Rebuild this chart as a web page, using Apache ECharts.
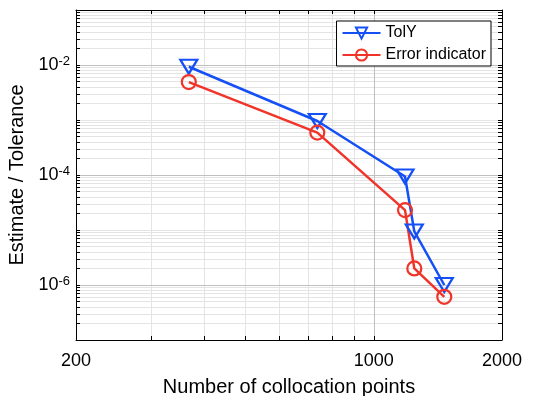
<!DOCTYPE html>
<html>
<head>
<meta charset="utf-8">
<script src="https://cdn.jsdelivr.net/npm/echarts@6/dist/echarts.min.js"></script>
<style>
html,body{margin:0;padding:0;background:#fff}
#chart{width:533px;height:396px}
</style>
</head>
<body>
<div id="chart"></div>
<script>
// number of collocation points (x)
const nPoints = [368, 737, 1184, 1245, 1464];
// TolY and error indicator (y)
const tolY = [9.3e-3, 9.6e-4, 9.4e-5, 9.4e-6, 1.0e-6];
const errInd = [4.9e-3, 5.9e-4, 2.3e-5, 2.0e-6, 6.1e-7];
// tick labels
const xLabels = [200, 1000, 2000];
const yLabels = [1e-6, 1e-4, 1e-2];
// minor grid positions
const xMinorTicks = [300, 400, 500, 600, 700, 800, 900];
const yMantissas = [1, 2, 3, 4, 5, 6, 7, 8, 9];
const yDecades = [-7, -6, -5, -4, -3, -2];

const blue = '#1450f5';
const red = '#f0342a';
const font = 'Liberation Sans, Arial, Helvetica, sans-serif';

let yMinorTicks = [];
yDecades.forEach(e => {
  yMantissas.forEach(m => {
    let v = m * Math.pow(10, e);
    if (v <= 1e-7 || yLabels.some(l => Math.abs(l - v) < v * 1e-6)) return;
    yMinorTicks.push(v);
  });
});

let gridLines = [];
xMinorTicks.forEach(v => gridLines.push({xAxis: v}));
yMinorTicks.forEach(v => gridLines.push({yAxis: v}));
let majorLines = [{xAxis: 1000}];
yLabels.forEach(v => majorLines.push({yAxis: v}));

function xAxisOpt(pos, labels) {
  return {
    type: 'log', logBase: 10, min: 200, max: 2000,
    position: pos,
    name: labels ? 'Number of collocation points' : '',
    nameLocation: 'middle', nameGap: 37,
    nameTextStyle: {fontSize: 20, color: '#000'},
    axisLine: {lineStyle: {color: '#000', width: 1}},
    axisTick: {inside: true, length: 4, lineStyle: {color: '#000'},
      customValues: xLabels.concat(xMinorTicks)},
    axisLabel: {show: labels, fontSize: 18, color: '#000', margin: 12,
      customValues: xLabels, formatter: v => String(Math.round(v))},
    splitLine: {show: false},
    z: 6
  };
}

function yAxisOpt(pos, labels) {
  return {
    type: 'log', logBase: 10, min: 1e-7, max: 1e-1,
    position: pos,
    name: labels ? 'Estimate / Tolerance' : '',
    nameLocation: 'middle', nameGap: 45,
    nameTextStyle: {fontSize: 20, color: '#000'},
    axisLine: {lineStyle: {color: '#000', width: 1}},
    axisTick: {inside: true, length: 4, lineStyle: {color: '#000'},
      customValues: yLabels.concat(yMinorTicks)},
    axisLabel: {
      show: labels,
      customValues: yLabels,
      margin: 6,
      formatter: function (v) {
        return '{b|10}{s|' + Math.round(Math.log10(v)) + '}';
      },
      rich: {
        b: {fontSize: 18, color: '#000', fontFamily: font},
        s: {fontSize: 13, color: '#000', fontFamily: font, verticalAlign: 'top', padding: [0, 0, 8, 0]}
      }
    },
    splitLine: {show: false},
    z: 6
  };
}

function gridMarks(lines, color) {
  return {
    silent: true,
    animation: false,
    precision: 12,
    z: 1,
    symbol: ['none', 'none'],
    label: {show: false},
    lineStyle: {type: 'solid', color: color, width: 1},
    emphasis: {disabled: true},
    data: lines
  };
}

let myChart = echarts.init(document.getElementById('chart'));
myChart.setOption({
  animation: false,
  textStyle: {fontFamily: font},
  grid: {
    left: 76, right: 31, top: 10, bottom: 56,
    outerBoundsMode: 'none',
    show: false
  },
  legend: {
    data: ['TolY', 'Error indicator'],
    orient: 'vertical',
    right: 42, top: 21, z: 10,
    itemWidth: 38, itemHeight: 14, itemGap: 6,
    padding: [4, 5, 3, 5],
    backgroundColor: '#fff',
    borderColor: '#000', borderWidth: 1, borderRadius: 0,
    textStyle: {fontSize: 16, color: '#000', fontFamily: font}
  },
  xAxis: [xAxisOpt('bottom', true), xAxisOpt('top', false)],
  yAxis: [yAxisOpt('left', true), yAxisOpt('right', false)],
  series: [
    {
      name: 'grid',
      type: 'line',
      data: [],
      silent: true,
      z: 1,
      markLine: gridMarks(gridLines, '#e4e4e4')
    },
    {
      name: 'major',
      type: 'line',
      data: [],
      silent: true,
      z: 1,
      markLine: gridMarks(majorLines, '#c0c0c0')
    },
    {
      name: 'TolY',
      type: 'line',
      z: 3,
      data: nPoints.map((x, i) => [x, tolY[i]]),
      symbol: 'triangle', symbolRotate: 180, symbolSize: [17, 14],
      lineStyle: {color: blue, width: 2.5},
      itemStyle: {color: 'rgba(0,0,0,0)', borderColor: blue, borderWidth: 2.2}
    },
    {
      name: 'Error indicator',
      type: 'line',
      z: 3,
      data: nPoints.map((x, i) => [x, errInd[i]]),
      symbol: 'circle', symbolSize: 14,
      lineStyle: {color: red, width: 2.5},
      itemStyle: {color: 'rgba(0,0,0,0)', borderColor: red, borderWidth: 2.2}
    }
  ]
});
</script>
</body>
</html>
